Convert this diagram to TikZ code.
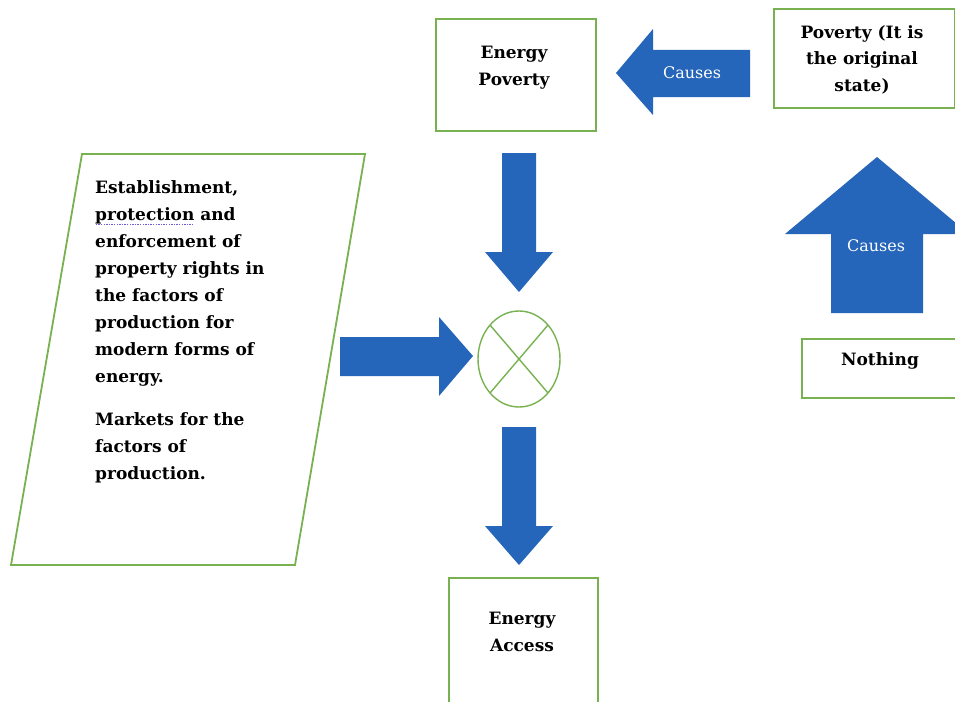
\documentclass[tikz,border=0pt]{standalone}
\usepackage{fontspec}
\setmainfont{DejaVu Serif}
\usetikzlibrary{shapes.geometric,calc}
\definecolor{boxgreen}{RGB}{120,178,80}
\definecolor{arrowblue}{RGB}{37,101,186}
\definecolor{spell}{RGB}{110,90,220}
\newlength\pwid
\newcommand\dotul[1]{\settowidth\pwid{#1}\rlap{\color{spell}\raisebox{-5pt}{\hbox to\pwid{\leaders\hbox to 2.6pt{\hss\rule{1.3pt}{1.3pt}\hss}\hfill}}}#1}
\begin{document}
\begin{tikzpicture}[x=1pt,y=-1pt,
  box/.style={draw=boxgreen, line width=1.8pt, fill=white, inner sep=0pt, anchor=north west},
  barrow/.style={fill=arrowblue, draw=none},
  lbl/.style={font=\bfseries\fontsize{17}{27}\selectfont, align=center, inner sep=0pt, anchor=base},
  llbl/.style={font=\bfseries\fontsize{17}{27}\selectfont, align=left, inner sep=0pt, anchor=base west},
  wlbl/.style={font=\fontsize{16}{20}\selectfont, text=white, inner sep=0pt}]
\clip (0,0) rectangle (955,701);
\fill[white] (0,0) rectangle (955,701);
% boxes
\node[box, minimum width=160pt, minimum height=112pt] (ep) at (435,18) {};
\node[box, minimum width=181pt, minimum height=99pt] (pov) at (773,8) {};
\node[box, minimum width=190pt, minimum height=59pt] (noth) at (801,338) {};
\node[box, minimum width=149pt, minimum height=150pt] (ea) at (448,577) {};
\draw[draw=boxgreen, line width=1.8pt] (82,154) coordinate (pa) -- (365,154) coordinate (pb) -- (295,565) coordinate (pc) -- (11,565) coordinate (pd) -- cycle;
% circle with cross
\node[draw=boxgreen, line width=1.4pt, ellipse, minimum width=82pt, minimum height=96pt, inner sep=0pt] (x) at (519,359) {};
\draw[boxgreen, line width=1.4pt] ($(x.center)+(-29,-34)$) -- ($(x.center)+(29,34)$);
\draw[boxgreen, line width=1.4pt] ($(x.center)+(29,-34)$) -- ($(x.center)+(-29,34)$);
% block arrows
\fill[barrow] (750,50) -- (653,50) -- (653,29) -- (616,73) -- (653,115) -- (653,97) -- (750,97) -- cycle;
\fill[barrow] (831,313) -- (831,234) -- (785,234) -- (877,157) -- (969,234) -- (923,234) -- (923,313) -- cycle;
\fill[barrow] (502,153) -- (536,153) -- (536,252) -- (553,252) -- (519,292) -- (485,252) -- (502,252) -- cycle;
\fill[barrow] (502,427) -- (536,427) -- (536,526) -- (553,526) -- (519,565) -- (485,526) -- (502,526) -- cycle;
\fill[barrow] (340,337) -- (439,337) -- (439,317) -- (473,356) -- (439,396) -- (439,376) -- (340,376) -- cycle;
% labels
\node[wlbl] (c1) at (692,73) {Causes};
\node[wlbl] (c2) at (876,246) {Causes};
\node[lbl] (tep) at (514,85) {Energy\\Poverty};
\node[lbl] (tpov) at (862,92) {Poverty (It is\\the original\\state)};
\node[lbl] (tno) at (880,365) {Nothing};
\node[lbl] (tea) at (522,651) {Energy\\Access};
\node[llbl] (tpar) at (95,479) {Establishment,\\\dotul{protection} and\\enforcement of\\property rights in\\the factors of\\production for\\modern forms of\\energy.\\[16pt]Markets for the\\factors of\\production.};
\end{tikzpicture}
\end{document}
